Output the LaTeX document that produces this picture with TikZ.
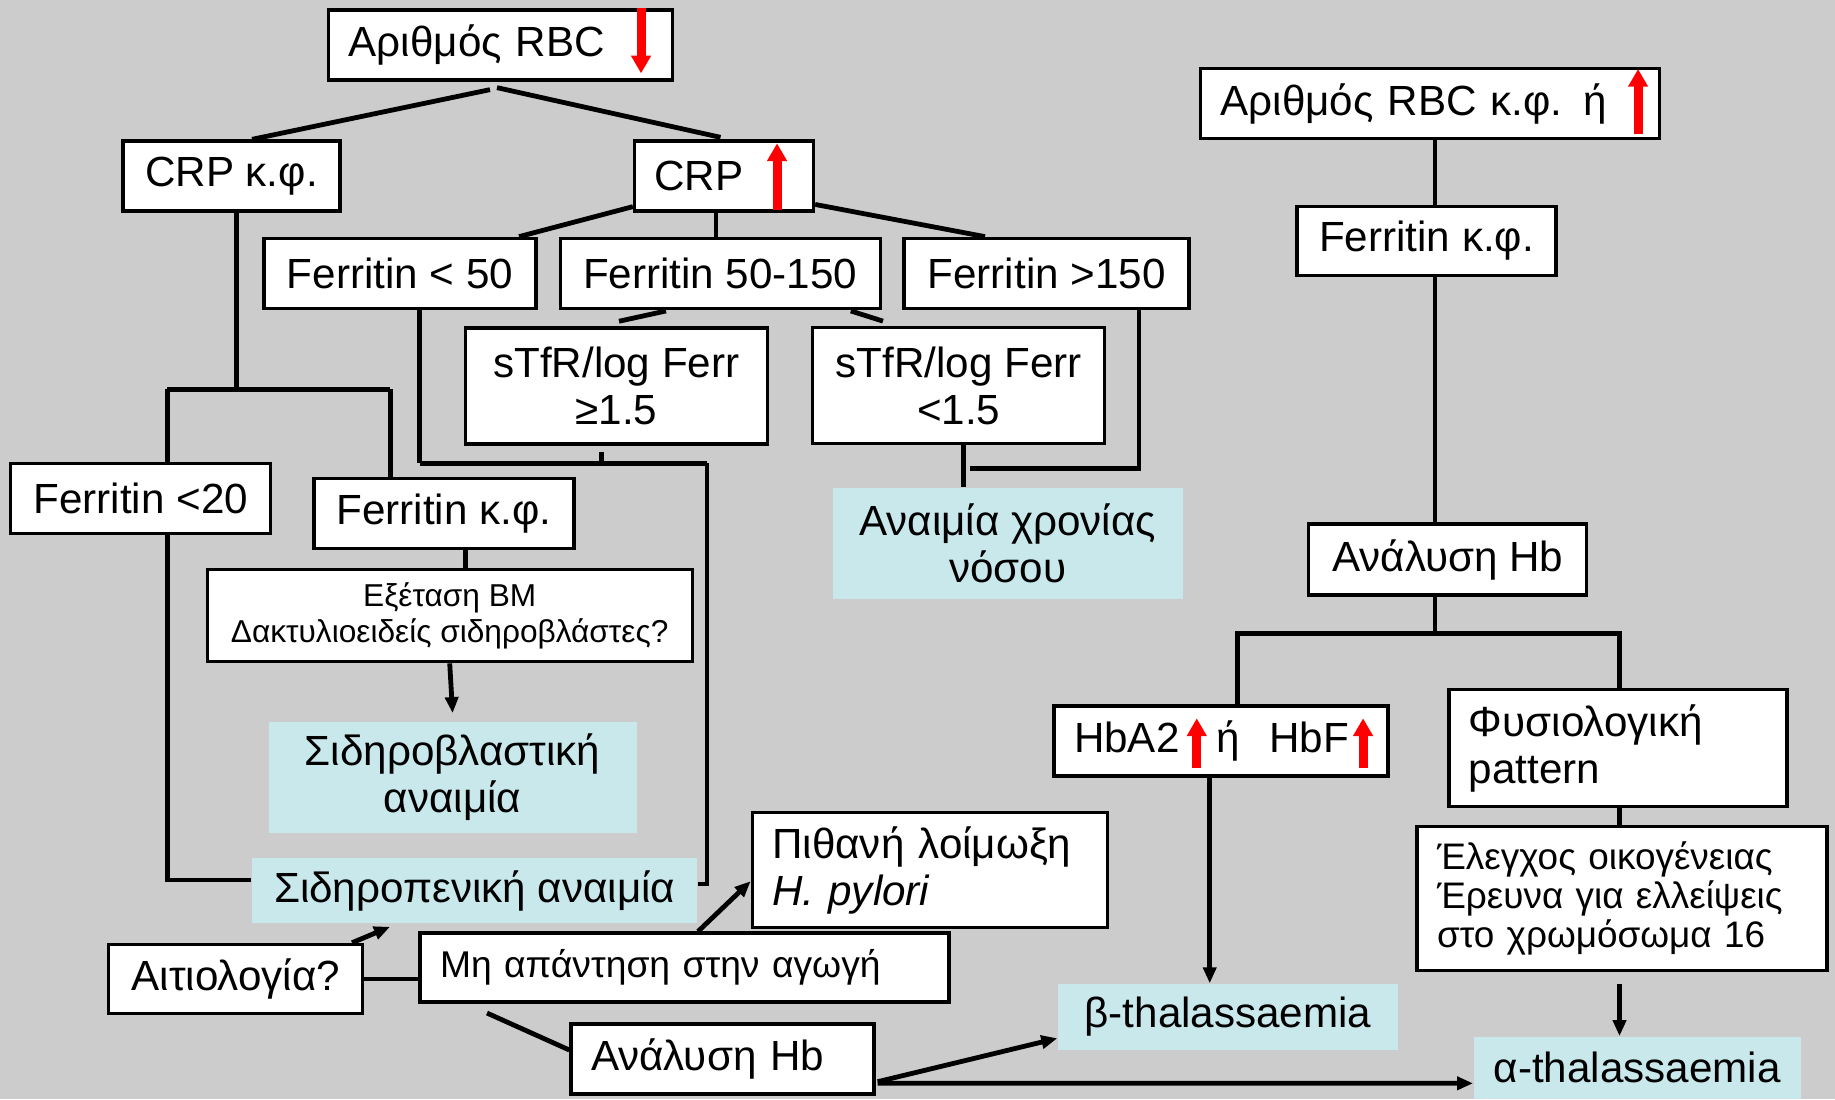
\documentclass[tikz,border=0pt]{standalone}
\usepackage{fontspec}
\setmainfont{Liberation Sans}
\usetikzlibrary{arrows.meta, positioning, calc}
\definecolor{bggray}{RGB}{204,204,204}
\definecolor{diagcyan}{RGB}{200,232,236}

\begin{document}
\begin{tikzpicture}[
    x=0.1mm, y=-0.1mm,
    % Styles
    box/.style={rectangle, draw=black, fill=white, line width=0.33mm, inner sep=0pt, align=center, font=\fontsize{12}{13.4}\selectfont},
    lbox/.style={box, align=left, inner xsep=2mm},
    diag/.style={rectangle, fill=diagcyan, inner sep=0pt, align=center, font=\fontsize{12}{13.4}\selectfont},
    conn/.style={draw=black, line width=0.48mm},
    arr/.style={conn, -{Triangle[length=1.6mm,width=1.3mm]}},
    redarr/.style={draw=red, line width=0.9mm, -{Triangle[length=1.77mm,width=1.9mm]}}
]

% Background
\fill[bggray] (0,0) rectangle (1835,1099);

% Left tree
\node[lbox, text width=30.4mm, minimum height=7mm] (rbc) at (500.8,45) {Αριθμός RBC};
\node[box, minimum width=21.7mm, minimum height=7mm] (crpnf) at (231.5,176) {CRP κ.φ.};
\node[lbox, text width=13.9mm, minimum height=7mm] (crpup) at (724,176) {CRP};
\node[box, minimum width=27.2mm, minimum height=7mm] (fer50) at (399.9,273.3) {Ferritin < 50};
\node[box, minimum width=32mm, minimum height=7mm] (fer50150) at (720.2,273.3) {Ferritin 50-150};
\node[box, minimum width=28.5mm, minimum height=7mm] (fer150) at (1046.6,273.3) {Ferritin >150};
\node[box, minimum width=30.2mm, minimum height=11.6mm] (stfrhi) at (616.4,385.9) {sTfR/log Ferr\\≥1.5};
\node[box, minimum width=29.2mm, minimum height=11.6mm] (stfrlo) at (958.7,385.8) {sTfR/log Ferr\\<1.5};
\node[box, minimum width=26mm, minimum height=7mm] (fer20) at (140.8,498.3) {Ferritin <20};
\node[box, minimum width=26mm, minimum height=7mm] (fernf) at (444,513.6) {Ferritin κ.φ.};
\node[box, font=\fontsize{9}{10.3}\selectfont, minimum width=48.5mm, minimum height=9.2mm] (bm) at (449.7,615.7) {Εξέταση BM\\Δακτυλιοειδείς σιδηροβλάστες?};
\node[diag, minimum width=36.8mm, minimum height=11.1mm] (sidbl) at (452.6,777.3) {Σιδηροβλαστική\\αναιμία};
\node[diag, minimum width=44.5mm, minimum height=6.5mm] (sidpen) at (474.6,890.6) {Σιδηροπενική αναιμία};
\node[box, minimum width=25.4mm, minimum height=6.9mm] (aitio) at (235.8,978.9) {Αιτιολογία?};
\node[lbox, font=\fontsize{10.6}{12}\selectfont, text width=48.9mm, minimum height=6.9mm] (noresp) at (684.5,967.6) {Μη απάντηση στην αγωγή};
\node[lbox, text width=31.5mm, minimum height=11.5mm] (pylori) at (929.8,870.2) {Πιθανή λοίμωξη\\\textit{H. pylori}};
\node[lbox, text width=26.3mm, minimum height=7mm] (hbbot) at (722.5,1059) {Ανάλυση Hb};
\node[diag, minimum width=35mm, minimum height=11.1mm] (chronic) at (1007.7,543.6) {Αναιμία χρονίας\\νόσου};

% Right tree
\node[lbox, text width=41.9mm, minimum height=7mm] (rbcnf) at (1430.2,103.7) {Αριθμός RBC κ.φ. ή};
\node[box, minimum width=25.9mm, minimum height=6.9mm] (fernf2) at (1426.5,241) {Ferritin κ.φ.};
\node[box, minimum width=27.8mm, minimum height=7.1mm] (hbr) at (1447.8,559.6) {Ανάλυση Hb};
\node[lbox, text width=29.4mm, minimum height=7mm] (hba2) at (1221,741) {HbA2\hspace{3.7mm}ή\hspace{2.95mm}HbF};
\node[lbox, text width=29.8mm, minimum height=11.7mm] (physio) at (1617.9,748.3) {Φυσιολογική\\pattern};
\node[lbox, font=\fontsize{10.5}{11.1}\selectfont, text width=37mm, minimum height=14.4mm] (family) at (1622,898.7) {Έλεγχος οικογένειας\\Έρευνα για ελλείψεις\\στο χρωμόσωμα 16};
\node[diag, minimum width=34mm, minimum height=6.6mm] (betathal) at (1228,1017) {β-thalassaemia};
\node[diag, minimum width=32.7mm, minimum height=6.2mm] (alphathal) at (1637.2,1067.8) {α-thalassaemia};

% Junctions
\coordinate (jl) at (167.2,389.3);
\coordinate (jc1) at (236.5,389.3);
\coordinate (jr) at (390.2,389.3);
\coordinate (jx) at (716,220);
\coordinate (ja) at (419.5,463.3);
\coordinate (jt) at (601.4,463.3);
\coordinate (jb) at (707,463.3);
\coordinate (jm) at (465.3,560);
\coordinate (jf) at (1139,468.8);
\coordinate (jc) at (970.2,468.8);
\coordinate (jg) at (963.7,470);
\coordinate (jh) at (1435,633.3);
\coordinate (jd) at (1237.5,633.3);
\coordinate (je) at (1619.5,633.3);
\coordinate (jk) at (1209.7,880);

% Top split
\draw[conn] ($(rbc.south)+(-10.8,8)$) -- ($(crpnf.north)+(20.5,0)$);
\draw[conn] ($(rbc.south)+(-3.8,6)$) -- ($(crpup.north)+(-3.5,-2)$);

% CRP raised branches
\draw[conn] ($(crpup.south west)+(0,-6)$) -- ($(fer50.north)+(119.1,0)$);
\draw[conn] (crpup.south -| jx) -- (fer50150.north -| jx);
\draw[conn] ($(crpup.south east)+(0,-8.2)$) -- ($(fer150.north)+(-61.6,0)$);
\draw[conn] ($(fer50150.south)+(-54.2,1)$) -- ($(stfrhi.north)+(2.6,-5)$);
\draw[conn] ($(fer50150.south)+(130.6,1)$) -- ($(stfrlo.north)+(-75.7,-5)$);

% CRP normal branch
\draw[conn] (crpnf.south -| jc1) -- (jc1);
\draw[conn] (jl) -- (jr);
\draw[conn] (jl) -- (fer20.north -| jl);
\draw[conn] (jr) -- (fernf.north -| jr);
\draw[conn] (fer20.south -| jl) |- ($(sidpen.west)+(0,-10.6)$);
\draw[conn] (fernf.south -| jm) -- (bm.north -| jm);
\draw[arr] (bm.south) -- ($(sidbl.north)+(0,-8)$);

% Ferritin < 50 branch
\draw[conn] (fer50.south -| ja) -- (ja);
\draw[conn] (ja) -- (jb);
\draw[conn] ($(stfrhi.south -| jt)+(0,6)$) -- (jt);
\draw[conn] (jb) |- ($(sidpen.east)+(0,-6.6)$);

% Chronic disease
\draw[conn] (fer150.south -| jf) -- (jf) -- (jc);
\draw[conn] (stfrlo.south -| jg) -- (chronic.north -| jg);

% Aetiology
\draw[arr] ($(aitio.north)+(116.2,0)$) -- ($(sidpen.south)+(-84.6,3)$);
\draw[conn] (aitio.east) -- (aitio.east -| noresp.west);
\draw[arr] ($(noresp.north)+(13.5,0)$) -- ($(pylori.west)+(0,11)$);
\draw[conn] ($(noresp.south)+(-197.5,9.3)$) -- ($(hbbot.west)+(0,-9)$);
\draw[arr] ($(hbbot.east)+(2,22.7)$) -- ($(betathal.west)+(0,21.3)$);
\draw[arr] ($(hbbot.east)+(2,24.3)$) -- ($(alphathal.west)+(0,15.5)$);

% Right tree
\draw[conn] (rbcnf.south -| jh) -- (fernf2.north -| jh);
\draw[conn] (fernf2.south -| jh) -- (hbr.north -| jh);
\draw[conn] (hbr.south -| jh) -- (jh);
\draw[conn] (hba2.north -| jd) -- (jd) -- (je) -- (physio.north -| je);
\draw[conn] (physio.south -| je) -- (family.north -| je);
\draw[arr] ($(family.south -| je)+(0,12)$) -- (alphathal.north -| je);
\draw[arr] (hba2.south -| jk) -- (betathal.north -| jk);

% Red arrows
\draw[redarr] ($(rbc.north east)+(-33.4,0)$) -- ($(rbc.south east)+(-33.4,-8.3)$);
\draw[redarr] ($(crpup.south east)+(-38.1,-3)$) -- ($(crpup.north east)+(-38.1,4)$);
\draw[redarr] ($(rbcnf.south east)+(-23.3,-6.5)$) -- ($(rbcnf.north east)+(-23.3,2)$);
\draw[redarr] ($(hba2.south west)+(144.4,-9.3)$) -- ($(hba2.north west)+(144.4,14)$);
\draw[redarr] ($(hba2.south west)+(310.7,-9.3)$) -- ($(hba2.north west)+(310.7,14)$);

\end{tikzpicture}
\end{document}
